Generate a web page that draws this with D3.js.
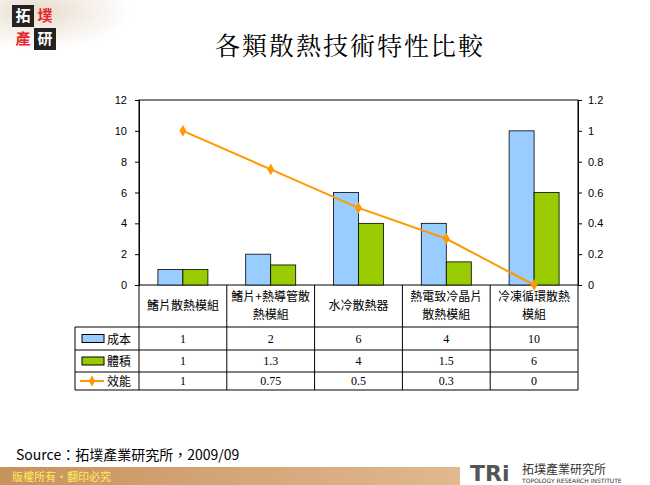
<!DOCTYPE html><html><head><meta charset="utf-8"><script src="https://cdn.jsdelivr.net/npm/d3@7"></script>
<style>body{margin:0;background:#fff}svg{display:block}</style></head><body><svg id="c" width="650" height="485"></svg>
<script>
const categories=[["鰭片散熱模組"],["鰭片+熱導管散","熱模組"],["水冷散熱器"],["熱電致冷晶片","散熱模組"],["冷凍循環散熱","模組"]];
const seriesNames=["成本","體積","效能"];
const cost=[1,2,6,4,10];
const volume=[1,1.3,4,1.5,6];
const efficiency=[1,0.75,0.5,0.3,0];
const leftTicks=[0,2,4,6,8,10,12];
const rightTicks=[0,0.2,0.4,0.6,0.8,1,1.2];
const svg=d3.select("#c");
const F="'Noto Sans CJK TC','DejaVu Sans',sans-serif";
const g0=svg.append("defs").append("radialGradient").attr("id","bg").attr("cx","0.15").attr("cy","0.1").attr("r","0.35");
g0.append("stop").attr("offset","0").attr("stop-color","#e8dccb");g0.append("stop").attr("offset","1").attr("stop-color","#fff");
svg.append("rect").attr("width",260).attr("height",110).attr("fill","url(#bg)");
svg.append("rect").attr("x",12).attr("y",5).attr("width",22).attr("height",22).attr("fill","#222");
svg.append("rect").attr("x",34).attr("y",28).attr("width",22).attr("height",22).attr("fill","#222");
[["拓",23,16,"#fff"],["墣",45,16,"#e5262b"],["產",23,39,"#e5262b"],["研",45,39,"#fff"]].forEach(([t,cx,cy,c])=>
 svg.append("text").attr("x",cx).attr("y",cy).attr("dy","0.35em").attr("text-anchor","middle").attr("fill",c).attr("font-size",15).attr("font-family",F).attr("font-weight","bold").text(t));
svg.append("text").attr("x",350).attr("y",55).attr("text-anchor","middle").attr("font-size",25).attr("font-family","'Noto Serif CJK TC','Noto Sans CJK TC',serif").attr("letter-spacing",2).text("各類散熱技術特性比較");
const L=139,R=578,T=100,B=285;
const x=d3.scaleBand().domain(d3.range(5)).range([L,R]);
const yl=d3.scaleLinear().domain([0,12]).range([B,T]);
const yr=d3.scaleLinear().domain([0,1.2]).range([B,T]);
svg.append("rect").attr("x",L).attr("y",T).attr("width",R-L).attr("height",B-T).attr("fill","none").attr("stroke","#000");
const al=svg.append("g").attr("transform",`translate(${L},0)`).call(d3.axisLeft(yl).tickValues(leftTicks).tickSize(4).tickFormat(d3.format("d")));
const ar=svg.append("g").attr("transform",`translate(${R},0)`).call(d3.axisRight(yr).tickValues(rightTicks).tickSize(4).tickFormat(d=>d===0?"0":d3.format("~g")(d)));
[al,ar].forEach(a=>{a.select(".domain").attr("stroke","#000");a.selectAll("text").attr("font-size",11).attr("font-family","'Liberation Sans',sans-serif").attr("fill","#000");});
al.selectAll("text").attr("x",-12);ar.selectAll("text").attr("x",10);
const bw=25,off=(x.bandwidth()-2*bw)/2;
svg.selectAll(".b1").data(cost).join("rect").attr("x",(d,i)=>x(i)+off).attr("y",d=>yl(d)).attr("width",bw).attr("height",d=>B-yl(d)).attr("fill","#99ccff").attr("stroke","#000").attr("stroke-width",0.8);
svg.selectAll(".b2").data(volume).join("rect").attr("x",(d,i)=>x(i)+off+bw).attr("y",d=>yl(d)).attr("width",bw).attr("height",d=>B-yl(d)).attr("fill","#99cc00").attr("stroke","#000").attr("stroke-width",0.8);
const line=d3.line().x((d,i)=>x(i)+x.bandwidth()/2).y(d=>yr(d));
svg.append("path").attr("d",line(efficiency)).attr("fill","none").attr("stroke","#ff9900").attr("stroke-width",2);
svg.selectAll(".m").data(efficiency).join("path").attr("d",d3.symbol(d3.symbolDiamond,40)).attr("transform",(d,i)=>`translate(${x(i)+x.bandwidth()/2},${yr(d)})`).attr("fill","#ff9900");
const TL=75,rows=[327,350,372,390];
const tg=svg.append("g").attr("stroke","#000").attr("fill","none");
rows.forEach(y=>tg.append("line").attr("x1",TL).attr("x2",R).attr("y1",y).attr("y2",y));
tg.append("line").attr("x1",TL).attr("x2",TL).attr("y1",rows[0]).attr("y2",rows[3]);
d3.range(6).forEach(i=>{const xx=i<5?x(i):R;tg.append("line").attr("x1",xx).attr("x2",xx).attr("y1",B).attr("y2",rows[3]);});
categories.forEach((c,i)=>{const n=c.length;c.forEach((s,j)=>svg.append("text").attr("x",x(i)+x.bandwidth()/2).attr("y",(B+rows[0])/2+4+(j-(n-1)/2)*18).attr("text-anchor","middle").attr("font-size",12).attr("font-family",F).text(s));});
const data=[cost,volume,efficiency];
data.forEach((arr,r)=>{const cy=(rows[r]+rows[r+1])/2;
 arr.forEach((v,i)=>svg.append("text").attr("x",x(i)+x.bandwidth()/2).attr("y",cy+4).attr("text-anchor","middle").attr("font-size",12).attr("font-family","'Liberation Serif',serif").text(v));
 svg.append("text").attr("x",107).attr("y",cy+5).attr("font-size",12).attr("font-family",F).text(seriesNames[r]);
 if(r<2)svg.append("rect").attr("x",82).attr("y",cy-4).attr("width",22).attr("height",8).attr("fill",r?"#99cc00":"#99ccff").attr("stroke","#000");
 else{svg.append("line").attr("x1",80).attr("x2",104).attr("y1",cy).attr("y2",cy).attr("stroke","#ff9900").attr("stroke-width",2);
  svg.append("path").attr("d",d3.symbol(d3.symbolDiamond,35)).attr("transform",`translate(92,${cy})`).attr("fill","#ff9900");}
});
svg.append("text").attr("x",16).attr("y",460).attr("font-size",14).attr("font-family",F).text("Source：拓墣產業研究所，2009/09");
const bg2=svg.append("defs").append("linearGradient").attr("id","bb");
bg2.append("stop").attr("offset","0").attr("stop-color","#c8925e");bg2.append("stop").attr("offset","1").attr("stop-color","#e9c9a4");
svg.append("rect").attr("x",0).attr("y",467).attr("width",650).attr("height",18).attr("fill","url(#bb)");
svg.append("text").attr("x",12).attr("y",481).attr("font-size",11).attr("font-family",F).attr("fill","#ffee55").text("版權所有・翻印必究");
svg.append("rect").attr("x",460).attr("y",458).attr("width",190).attr("height",27).attr("fill","#fff");
svg.append("text").attr("x",470).attr("y",481).attr("font-size",22).attr("font-weight","bold").attr("font-family","'DejaVu Sans',sans-serif").attr("fill","#555").text("TRi");
svg.append("text").attr("x",522).attr("y",474).attr("font-size",12).attr("font-family",F).attr("fill","#333").text("拓墣產業研究所");
svg.append("text").attr("x",522).attr("y",483).attr("font-size",6).attr("font-family","'DejaVu Sans',sans-serif").attr("fill","#333").text("TOPOLOGY RESEARCH INSTITUTE");
</script></body></html>
